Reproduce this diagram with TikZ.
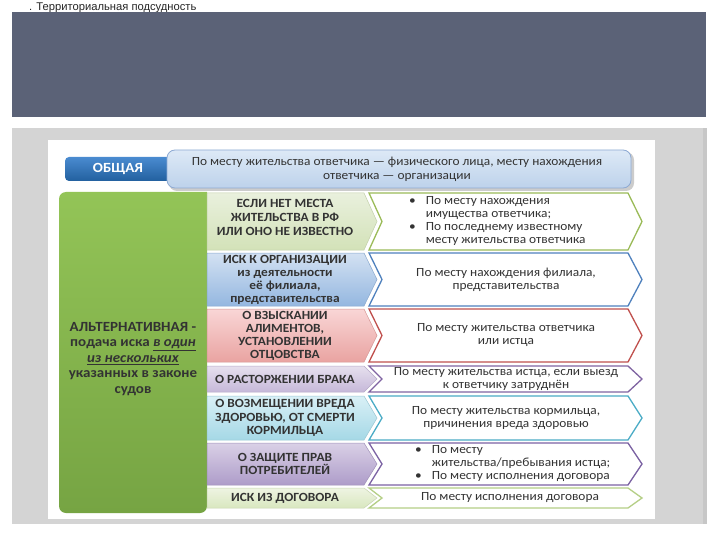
\documentclass[tikz,border=0pt]{standalone}
\usepackage{fontspec}
\setmainfont{Carlito}[FakeStretch=1.07]
\newfontfamily\titlefont{Liberation Sans}
\usetikzlibrary{shadings}
\definecolor{band}{HTML}{5B6277}
\definecolor{panel}{HTML}{D4D4D4}
\definecolor{txt}{HTML}{333333}
\definecolor{gtop}{HTML}{93C457}
\definecolor{gbot}{HTML}{76A443}
\definecolor{obtop}{HTML}{4A8BD0}
\definecolor{obbot}{HTML}{22609F}
\definecolor{lbtop}{HTML}{DDE9F6}
\definecolor{lbbot}{HTML}{BDD2EB}
\definecolor{lbdraw}{HTML}{8EAAD3}
\definecolor{c1t}{HTML}{E9F0DD}\definecolor{c1b}{HTML}{D3E2B8}\definecolor{c1d}{HTML}{9BBB59}
\definecolor{c2t}{HTML}{D3E1F2}\definecolor{c2b}{HTML}{94B7E0}\definecolor{c2d}{HTML}{4F81BD}
\definecolor{c3t}{HTML}{F9D6D6}\definecolor{c3b}{HTML}{E9A3A1}\definecolor{c3d}{HTML}{C0504D}
\definecolor{c4t}{HTML}{E6E0EE}\definecolor{c4b}{HTML}{C6B8D9}\definecolor{c4d}{HTML}{8064A2}
\definecolor{c5t}{HTML}{D9F0F6}\definecolor{c5b}{HTML}{A5D8E6}\definecolor{c5d}{HTML}{4BACC6}
\definecolor{c6t}{HTML}{D9D0E6}\definecolor{c6b}{HTML}{AE9CC9}\definecolor{c6d}{HTML}{7B62A3}
\definecolor{c7t}{HTML}{EEF4E2}\definecolor{c7b}{HTML}{D9E7BF}\definecolor{c7d}{HTML}{B5CF86}
\tikzset{
  ltxt/.style={font=\bfseries\fontsize{12.5}{13}\selectfont, text=txt, align=center, inner sep=0pt},
  rtxt/.style={font=\fontsize{12.5}{13}\selectfont, text=txt, align=center, inner sep=0pt},
  lshape/.style={line width=0.5pt},
  rshape/.style={line width=1.3pt, fill=white, line join=miter},
}
% left "home plate" arrow: #1 top, #2 bottom, #3 colour prefix
\newcommand\lchev[3]{%
  \path[lshape, top color=#3t, bottom color=#3b, draw=#3b!80!black!40!#3b]
    (207,#1) -- (364,#1) -- (377,{(#1+#2)/2}) -- (364,#2) -- (207,#2) -- cycle;}
% right chevron outline: #1 top, #2 bottom, #3 colour
\newcommand\rchev[3]{%
  \path[rshape, draw=#3]
    (369,#1) -- (628,#1) -- (642,{(#1+#2)/2}) -- (628,#2) -- (369,#2) -- (382,{(#1+#2)/2}) -- cycle;}
\begin{document}
\begin{tikzpicture}[x=1pt,y=-1pt]
\useasboundingbox (0,0) rectangle (720,540);
\fill[white] (0,0) rectangle (720,540);
% title and bands
\node[anchor=west, inner sep=0pt, font=\titlefont\fontsize{11.2}{12}\selectfont, text=black!85] (title) at (29,7.5) {. Территориальная подсудность};
\fill[band] (12,12) rectangle (706,117);
\fill[panel] (12,128) rectangle (707,524);
\fill[black!22] (703,128) rectangle (707,524);
\fill[white] (48,140) rectangle (655,519);
% top row
\fill[black!20, rounded corners=8] (169,152) rectangle (634,191);
\path[rounded corners=4, top color=obtop, bottom color=obbot] (65,157) rectangle (185,181);
\node[font=\bfseries\fontsize{14}{15}\selectfont, text=white, inner sep=0pt] (obsh) at (118,169) {ОБЩАЯ};
\path[rounded corners=8, top color=lbtop, bottom color=lbbot, draw=lbdraw, line width=0.8pt] (167,150) rectangle (631,188);
\node[rtxt, font=\fontsize{12.5}{14}\selectfont] (obshtxt) at (397,169) {По месту жительства ответчика — физического лица, месту нахождения\\ответчика — организации};
% green box
\path[rounded corners=7, top color=gtop, bottom color=gbot] (207,192) -| (59,513) -| (207,192);
\node[ltxt, text=black!80, font=\bfseries\fontsize{14}{15.5}\selectfont] (alt) at (133,359) {АЛЬТЕРНАТИВНАЯ -\\подача иска \underline{\textit{в один}}\\\underline{\textit{из нескольких}}\\указанных в законе\\судов};
% rows
\lchev{193}{250}{c1} \rchev{193}{250}{c1d}
\lchev{253}{306}{c2} \rchev{253}{306}{c2d}
\lchev{309}{362}{c3} \rchev{309}{362}{c3d}
\lchev{366}{392}{c4} \rchev{366}{392}{c4d}
\lchev{396}{440}{c5} \rchev{396}{440}{c5d}
\lchev{443}{485}{c6} \rchev{443}{485}{c6d}
\lchev{488}{508}{c7} \rchev{488}{508}{c7d}
% left labels
\node[ltxt, font=\bfseries\fontsize{12.5}{14}\selectfont] (l1) at (285,217) {ЕСЛИ НЕТ МЕСТА\\ЖИТЕЛЬСТВА В РФ\\ИЛИ ОНО НЕ ИЗВЕСТНО};
\node[ltxt] (l2) at (285,280) {ИСК К ОРГАНИЗАЦИИ\\из деятельности\\её филиала,\\представительства};
\node[ltxt] (l3) at (285,336) {О ВЗЫСКАНИИ\\АЛИМЕНТОВ,\\УСТАНОВЛЕНИИ\\ОТЦОВСТВА};
\node[ltxt] (l4) at (285,379) {О РАСТОРЖЕНИИ БРАКА};
\node[ltxt, font=\bfseries\fontsize{12.5}{13.5}\selectfont] (l5) at (285,418) {О ВОЗМЕЩЕНИИ ВРЕДА\\ЗДОРОВЬЮ, ОТ СМЕРТИ\\КОРМИЛЬЦА};
\node[ltxt] (l6) at (285,464) {О ЗАЩИТЕ ПРАВ\\ПОТРЕБИТЕЛЕЙ};
\node[ltxt] (l7) at (285,498) {ИСК ИЗ ДОГОВОРА};
% right texts
\node[rtxt, anchor=west, align=left] (r1) at (409,221.5) {%
  \begin{tabular}{@{}l@{\hspace{10pt}}l@{}}\textbullet & По месту нахождения\\ & имущества ответчика;\\ \textbullet & По последнему известному\\ & месту жительства ответчика\end{tabular}};
\node[rtxt] (r2) at (506,279.5) {По месту нахождения филиала,\\представительства};
\node[rtxt] (r3) at (506,335.5) {По месту жительства ответчика\\или истца};
\node[rtxt] (r4) at (506,379) {По месту жительства истца, если выезд\\к ответчику затруднён};
\node[rtxt] (r5) at (506,418) {По месту жительства кормильца,\\причинения вреда здоровью};
\node[rtxt, anchor=west, align=left] (r6) at (415,464) {%
  \begin{tabular}{@{}l@{\hspace{10pt}}l@{}}\textbullet & По месту\\ & жительства/пребывания истца;\\ \textbullet & По месту исполнения договора\end{tabular}};
\node[rtxt] (r7) at (510,498) {По месту исполнения договора};
\end{tikzpicture}
\end{document}
